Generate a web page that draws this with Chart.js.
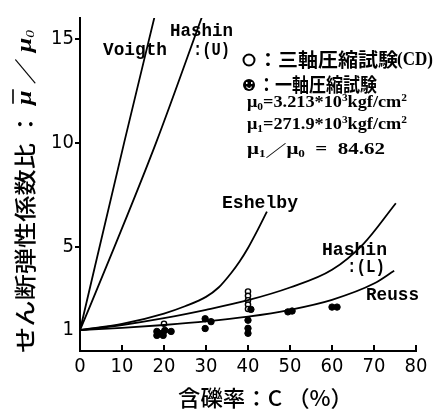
<!DOCTYPE html>
<html>
<head>
<meta charset="utf-8">
<script src="https://cdn.jsdelivr.net/npm/chart.js@4.4.1/dist/chart.umd.min.js"></script>
<style>
  html, body { margin: 0; padding: 0; background: #fff; }
  canvas { display: block; }
</style>
</head>
<body>
<canvas id="chart" width="441" height="415"></canvas>
<script>
// axis ticks
const xTicks = [0, 10, 20, 30, 40, 50, 60, 70, 80];
const yTicks = [1, 5, 10, 15];
const yTickMarks = [5, 10, 15];

// theoretical curves (C in %, ratio)
const voigtC = [0, 10.5, 17.8];
const voigtV = [1, 10, 16.1];
const hashinUC = [0, 8.2, 18.1, 29.3];
const hashinUV = [1, 5, 10, 16.2];
const eshelbyC = [0, 10, 20, 25, 30, 33, 36, 38, 40, 42, 44.5];
const eshelbyV = [1, 1.3, 1.8, 2.15, 2.6, 3.05, 3.75, 4.3, 4.95, 5.7, 6.7];
const hashinLC = [0, 10, 20, 30, 40, 50, 60, 67.5, 75.2];
const hashinLV = [1, 1.25, 1.58, 1.98, 2.44, 3.05, 3.9, 5.15, 7.1];
const reussC = [0, 10, 20, 30, 40, 50, 60, 70, 74.8];
const reussV = [1, 1.11, 1.25, 1.42, 1.65, 1.98, 2.46, 3.24, 3.86];

// test results
const triaxC = [20, 40, 40, 40, 40, 40];
const triaxV = [1.31, 2.86, 2.65, 2.44, 2.23, 2.02];
const uniaxC = [18.3, 19.5, 20.2, 21.7, 18.3, 19.8, 29.8, 31.2, 29.8, 40.7, 40, 40, 40, 49.5, 50.5, 60, 61.2];
const uniaxV = [0.94, 0.85, 0.99, 0.94, 0.75, 0.75, 1.55, 1.41, 1.08, 2.0, 1.48, 1.09, 0.85, 1.88, 1.92, 2.11, 2.11];

const pts = (xs, ys) => xs.map((x, i) => ({ x, y: ys[i] }));

const TICK_FONT = '"DejaVu Sans Condensed", "DejaVu Sans", sans-serif';
const CJK = '"Noto Sans CJK JP", sans-serif';
const SERIF = '"Liberation Serif", "DejaVu Serif", serif';
const MONO = '"Liberation Mono", "DejaVu Sans Mono", monospace';

function curve(c, v) {
  return {
    data: pts(c, v), showLine: true, pointRadius: 0,
    borderColor: '#000', borderWidth: 1.8, fill: false,
    cubicInterpolationMode: 'monotone'
  };
}

// draws a row of [text, font, dy, overline] pieces squeezed to a given width
function richText(ctx, parts, x, y, width) {
  let total = 0;
  parts.forEach(p => { ctx.font = p[1]; total += ctx.measureText(p[0]).width; });
  ctx.save();
  ctx.translate(x, y);
  ctx.scale(width / total, 1);
  ctx.textAlign = 'left';
  ctx.textBaseline = 'middle';
  let cx = 0;
  parts.forEach(p => {
    ctx.font = p[1];
    const w = ctx.measureText(p[0]).width;
    ctx.fillText(p[0], cx, p[2] || 0);
    if (p[3]) {
      ctx.beginPath();
      ctx.lineWidth = 1.6;
      ctx.moveTo(cx + 1, p[3]);
      ctx.lineTo(cx + w + 1, p[3]);
      ctx.stroke();
    }
    cx += w;
  });
  ctx.restore();
}

const decor = {
  id: 'decor',
  afterDraw(chart) {
    const { ctx, chartArea: ca } = chart;
    const xs = chart.scales.x, ys = chart.scales.y;
    ctx.save();
    ctx.fillStyle = '#000';
    ctx.strokeStyle = '#000';

    // tick marks: x inward, y outward
    ctx.beginPath();
    ctx.lineWidth = 2;
    xTicks.filter(v => v > 0).forEach(v => {
      const px = Math.round(xs.getPixelForValue(v));
      ctx.moveTo(px, ca.bottom);
      ctx.lineTo(px, ca.bottom - 6);
    });
    yTickMarks.forEach(v => {
      const py = Math.round(ys.getPixelForValue(v));
      ctx.moveTo(ca.left, py);
      ctx.lineTo(ca.left - 5, py);
    });
    ctx.stroke();

    // axis titles
    richText(ctx, [['含礫率：C （%）', '500 22px ' + CJK]], 178, 398, 175);
    ctx.save();
    ctx.translate(25, 353);
    ctx.rotate(-Math.PI / 2);
    richText(ctx, [
      ['せん断弾性係数比 ： ', '500 22px ' + CJK],
      ['μ', 'italic bold 22px ' + SERIF, 0, -12],
      [' ／ ', '500 22px ' + CJK],
      ['μ', 'italic bold 22px ' + SERIF],
      ['0', 'italic 13px ' + SERIF, 6]
    ], 0, 0, 323);
    ctx.restore();

    // curve labels
    const lab = 'bold 18px ' + MONO;
    richText(ctx, [['Voigth', lab]], 103, 50, 64);
    richText(ctx, [['Hashin', lab]], 170, 31, 63);
    richText(ctx, [[':(U)', lab]], 193, 50, 37);
    richText(ctx, [['Eshelby', lab]], 222, 203, 76);
    richText(ctx, [['Hashin', lab]], 322, 250, 65);
    richText(ctx, [[':(L)', lab]], 347, 267, 38);
    richText(ctx, [['Reuss', lab]], 366, 295, 53);

    // legend markers
    ctx.beginPath();
    ctx.lineWidth = 2;
    ctx.arc(249, 60, 5.5, 0, Math.PI * 2);
    ctx.stroke();
    ctx.beginPath();
    ctx.arc(249, 85, 6, 0, Math.PI * 2);
    ctx.fill();
    ctx.fillStyle = '#fff';
    ctx.fillRect(246, 82, 1.5, 2);
    ctx.fillRect(251, 82, 1.5, 2);
    ctx.beginPath();
    ctx.strokeStyle = '#fff';
    ctx.lineWidth = 1.2;
    ctx.arc(249, 86, 2.5, 0.2, Math.PI - 0.2);
    ctx.stroke();
    ctx.fillStyle = '#000';
    ctx.strokeStyle = '#000';

    // legend text
    const jp = 'bold 19px ' + CJK;
    richText(ctx, [['：三軸圧縮試験', jp]], 258, 60, 140);
    richText(ctx, [['(CD)', 'bold 19px ' + SERIF]], 397, 60, 36);
    richText(ctx, [['：一軸圧縮試験', jp]], 258, 85, 119);
    const f = 'bold 16px ' + SERIF, sub = 'bold 10px ' + SERIF;
    richText(ctx, [['μ', f], ['0', sub, 4], ['=3.213*10', f], ['3', sub, -5], ['kgf/cm', f], ['2', sub, -5]], 247, 103, 160);
    richText(ctx, [['μ', f], ['1', sub, 4], ['=271.9*10', f], ['3', sub, -5], ['kgf/cm', f], ['2', sub, -5]], 247, 125, 160);
    richText(ctx, [['μ', f], ['1', sub, 4], ['／', 'bold 16px ' + CJK], ['μ', f], ['0', sub, 4], ['  =  84.62', f]], 247, 150, 138);
    ctx.restore();
  }
};

new Chart(document.getElementById('chart'), {
  type: 'scatter',
  data: {
    datasets: [
      curve(voigtC, voigtV),
      curve(hashinUC, hashinUV),
      curve(eshelbyC, eshelbyV),
      curve(hashinLC, hashinLV),
      curve(reussC, reussV),
      {
        data: pts(uniaxC, uniaxV), pointRadius: 3.2, pointStyle: 'circle',
        backgroundColor: '#000', borderColor: '#000', borderWidth: 1
      },
      {
        data: pts(triaxC, triaxV), pointRadius: 2.6, pointStyle: 'circle',
        backgroundColor: '#fff', borderColor: '#000', borderWidth: 1.4
      }
    ]
  },
  options: {
    responsive: false,
    animation: false,
    devicePixelRatio: 1,
    layout: { padding: { left: 0, right: 25, top: 13, bottom: 0 } },
    plugins: { legend: { display: false }, tooltip: { enabled: false } },
    scales: {
      x: {
        type: 'linear', min: 0, max: 80,
        afterBuildTicks: s => { s.ticks = xTicks.map(v => ({ value: v })); },
        afterFit: s => { s.height = 64; },
        grid: { display: false, drawTicks: false },
        border: { display: true, color: '#000', width: 2 },
        ticks: { color: '#000', font: { family: TICK_FONT, size: 20 }, padding: 4, autoSkip: false, maxRotation: 0 }
      },
      y: {
        type: 'linear', min: 0, max: 16,
        afterBuildTicks: s => { s.ticks = yTicks.map(v => ({ value: v })); },
        afterFit: s => { s.width = 80; },
        grid: { display: false, drawTicks: false },
        border: { display: true, color: '#000', width: 2 },
        ticks: { color: '#000', font: { family: TICK_FONT, size: 20 }, padding: 6 }
      }
    }
  },
  plugins: [decor]
});
</script>
</body>
</html>
